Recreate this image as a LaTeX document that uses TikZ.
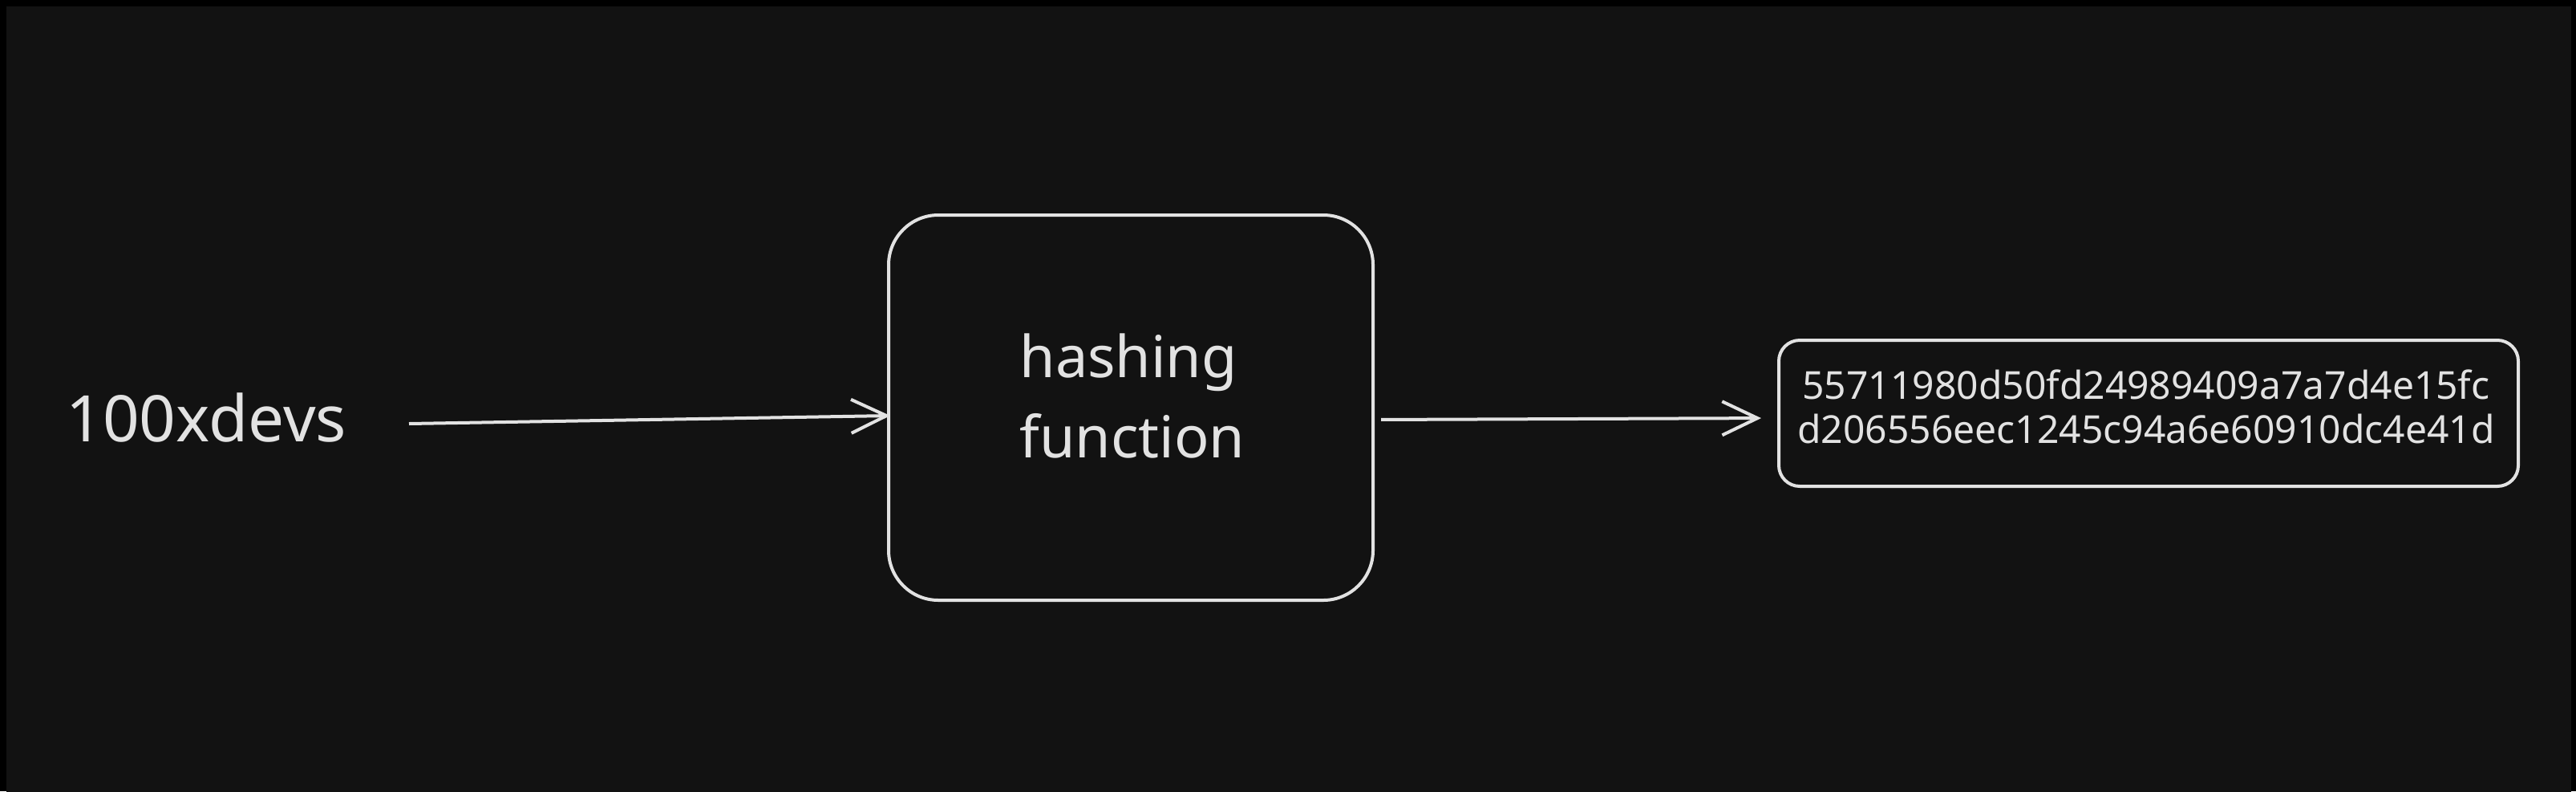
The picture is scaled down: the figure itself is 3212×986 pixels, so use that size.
\documentclass[tikz,border=0pt]{standalone}
\usepackage{fontspec}
\setmainfont{Noto Sans}
\usetikzlibrary{arrows.meta}
\definecolor{bgc}{HTML}{121212}
\definecolor{ink}{HTML}{E2E2E2}
\tikzset{
  sketch/.style={draw=ink, line width=2pt},
  txt/.style={text=ink, inner sep=0pt},
  flow/.style={draw=ink, line width=2pt, -{Straight Barb[length=22pt,width=21pt,line width=2pt]}},
}
\begin{document}
\begin{tikzpicture}[x=0.5pt,y=-0.5pt]
\useasboundingbox (0,0) rectangle (3212,986);
\fill[black] (0,0) rectangle (3212,986);
\fill[bgc] (8,8) rectangle (3206,990);

\node[txt, anchor=base west, font=\fontsize{40}{48}\selectfont] (src) at (82,550) {100xdevs};

\node[sketch, rounded corners=31pt, minimum width=302pt, minimum height=240pt] (hf) at (1410,508) {};
\node[txt, align=left, font=\fontsize{36}{50}\selectfont] (hftxt) at (1412,493) {hashing\\function};

\node[sketch, rounded corners=13pt, minimum width=461pt, minimum height=91pt] (hash) at (2679,515) {};
\node[txt, align=center, font=\fontsize{24}{27.5}\selectfont] (hashtxt) at (2676,507)
      {55711980d50fd24989409a7a7d4e15fc\\d206556eec1245c94a6e60910dc4e41d};

\coordinate (a1s) at (510,528);
\coordinate (a1e) at (1110,518);
\draw[flow] (a1s) -- (a1e);
\draw[flow, shorten <=4pt, shorten >=10pt] (hf.east |- 0,523) -- (hash.west |- 0,521);
\end{tikzpicture}
\end{document}
